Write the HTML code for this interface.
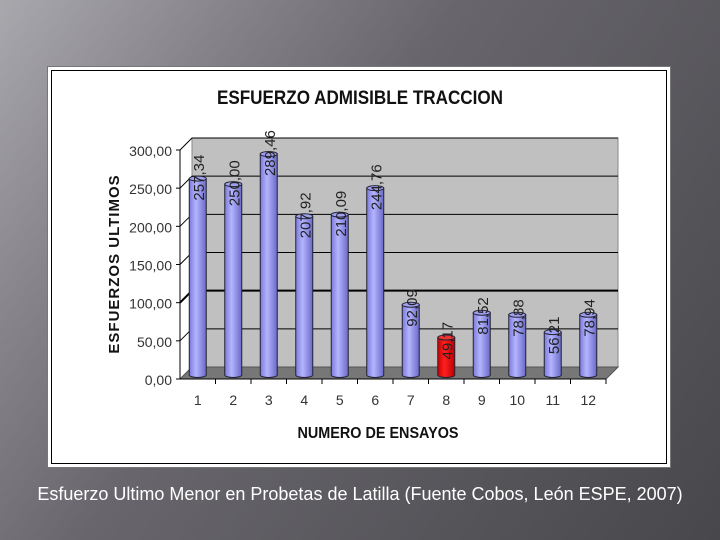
<!DOCTYPE html>
<html><head><meta charset="utf-8"><style>
html,body{margin:0;padding:0}
body{width:720px;height:540px;overflow:hidden;position:relative;font-family:"Liberation Sans",sans-serif;
background:linear-gradient(125deg,#a9a8ad 0%,#858389 22%,#68666c 42%,#58575c 70%,#48474b 100%)}
#box{position:absolute;left:47px;top:66px;width:624px;height:402px;background:#fff;border:1px solid #777;box-sizing:border-box}
#inner{position:absolute;left:3px;top:3px;right:3px;bottom:3px;border:1px solid #000}
#cap{position:absolute;left:0;width:720px;top:484px;text-align:center;color:#fff;font-size:18px}
</style></head><body>
<div id="box"><div id="inner"></div></div>
<svg id="chart" width="720" height="540" style="position:absolute;left:0;top:0">
<defs>
<linearGradient id="gb" x1="0" x2="1"><stop offset="0" stop-color="#7b7bd9"/><stop offset="0.4" stop-color="#b4b4ff"/><stop offset="1" stop-color="#6a6ac8"/></linearGradient>
<linearGradient id="gr" x1="0" x2="1"><stop offset="0" stop-color="#c00"/><stop offset="0.4" stop-color="#ff2020"/><stop offset="1" stop-color="#b00"/></linearGradient>
</defs>
<g id="plot"></g>
</svg>
<div id="cap">Esfuerzo Ultimo Menor en Probetas de Latilla (Fuente Cobos, León ESPE, 2007)</div>
<script>
const categories=["1","2","3","4","5","6","7","8","9","10","11","12"];
const values=[257.34,250.00,289.46,207.92,210.09,244.76,92.09,49.17,81.52,78.88,56.21,78.94];
const valueLabels=["257,34","250,00","289,46","207,92","210,09","244,76","92,09","49,17","81,52","78,88","56,21","78,94"];
const yTicks=[0,50,100,150,200,250,300];
const yTickLabels=["0,00","50,00","100,00","150,00","200,00","250,00","300,00"];
const NS="http://www.w3.org/2000/svg";
const g=document.getElementById('plot');
const x0=180,x1=606,y0=379,yTop=150,dx=12,dy=12;
const y=v=>y0-(v/300)*(y0-yTop);
const bw=(x1-x0)/categories.length;
const xc=i=>x0+bw*(i+0.5)+3;
function mk(t,a,txt){const e=document.createElementNS(NS,t);for(const k in a)e.setAttribute(k,a[k]);if(txt!==undefined)e.textContent=txt;g.appendChild(e);return e;}
let e=mk('polygon',{points:`${x0},${y0} ${x0+dx},${y0-dy} ${x0+dx},${yTop-dy} ${x1+dx},${yTop-dy} ${x1+dx},${y0-dy} ${x1},${y0}`,fill:'#c0c0c0',stroke:'#888'});

e=mk('polygon',{points:`${x0},${y0} ${x0+dx},${y0-dy} ${x1+dx},${y0-dy} ${x1},${y0}`,fill:'#777',stroke:'#555'});

yTicks.forEach((t,i)=>{
  if(t>0){const l=mk('polyline',{points:`${x0},${y(t)} ${x0+dx},${y(t)-dy} ${x1+dx},${y(t)-dy}`,fill:'none',stroke:'#000','stroke-width':t==100?2:1});
  }
  const tx=mk('text',{x:172,y:y(t)+6,'text-anchor':'end','font-size':14,fill:'#333'},yTickLabels[i]);
  
  const tk=mk('line',{x1:x0-4,x2:x0,y1:y(t),y2:y(t),stroke:'#000'});
  
});
e=mk('line',{x1:x0,x2:x0,y1:y0,y2:yTop,stroke:'#000'});
e=mk('line',{x1:x0,x2:x1,y1:y0,y2:y0,stroke:'#000'});
categories.forEach((c,i)=>{
  const cx=xc(i)-3,w=17,bot=y0-4,top=y(values[i])-4,fill=i==7?'url(#gr)':'url(#gb)';
  const b=mk('path',{d:`M${cx-w/2},${top} L${cx-w/2},${bot} A${w/2},2.5 0 0 0 ${cx+w/2},${bot} L${cx+w/2},${top} Z`,fill:fill,stroke:'#223'});
  
  const cap=mk('ellipse',{cx:cx,cy:top,rx:w/2,ry:2.5,fill:i==7?'#e33':'#a0a0f0',stroke:'#223'});
  
  const lb=mk('text',{x:0,y:0,'font-size':15,fill:'#222',transform:`translate(${cx+6},${top+22}) rotate(-90)`},valueLabels[i]);
  
  const xl=mk('text',{x:cx,y:405,'text-anchor':'middle','font-size':14,fill:'#333'},c);
  
  const tk=mk('line',{x1:x0+bw*(i+1),x2:x0+bw*(i+1),y1:y0,y2:y0+5,stroke:'#000'});
  
});
e=mk('text',{x:360,y:104,'text-anchor':'middle','font-size':19,'font-weight':'bold',fill:'#111',transform:'translate(360,0) scale(0.9,1) translate(-360,0)'},'ESFUERZO ADMISIBLE TRACCION');

e=mk('text',{x:378,y:438,'text-anchor':'middle','font-size':16,'font-weight':'bold',fill:'#111',transform:'translate(378,0) scale(0.9,1) translate(-378,0)'},'NUMERO DE ENSAYOS');

e=mk('text',{x:0,y:0,'text-anchor':'middle','font-size':15,'font-weight':'bold',fill:'#111','letter-spacing':'1',transform:'translate(119,264) rotate(-90)'},'ESFUERZOS ULTIMOS');

</script>
</body></html>
